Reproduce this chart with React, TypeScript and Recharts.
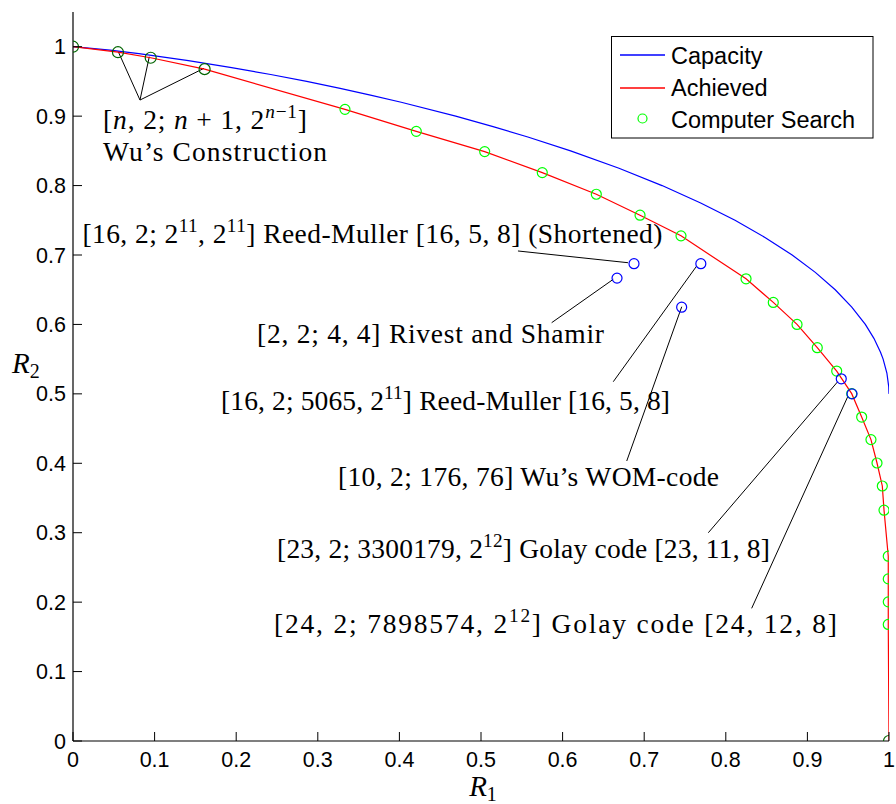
import React from 'react';
import { ComposedChart, Line, Scatter, XAxis, YAxis, Legend, ReferenceLine } from 'recharts';

// ---------- data ----------
const capacityR1 = [0, 0.0454, 0.0808, 0.1414, 0.1944, 0.2423, 0.2864, 0.3274, 0.3659, 0.4022, 0.469, 0.5148, 0.5574, 0.6098, 0.6691, 0.7219, 0.7692, 0.8113, 0.8485, 0.8813, 0.9097, 0.9341, 0.9544, 0.971, 0.9815, 0.9896, 0.9928, 0.9974, 0.9997, 1];
const capacityR2 = [1, 0.995, 0.99, 0.98, 0.97, 0.96, 0.95, 0.94, 0.93, 0.92, 0.9, 0.885, 0.87, 0.85, 0.825, 0.8, 0.775, 0.75, 0.725, 0.7, 0.675, 0.65, 0.625, 0.6, 0.58, 0.56, 0.55, 0.53, 0.51, 0.5];

const achievedR1 = [0, 0.0551, 0.0952, 0.1613, 0.3333, 0.4207, 0.5045, 0.5751, 0.6413, 0.6949, 0.7451, 0.8248, 0.8582, 0.8873, 0.9121, 0.9359, 0.9543, 0.9665, 0.9779, 0.9853, 0.9918, 0.9939, 0.9991, 0.9991, 0.9991, 0.9991, 1];
const achievedR2 = [1, 0.9921, 0.9841, 0.9677, 0.9098, 0.8781, 0.8489, 0.8187, 0.7875, 0.7573, 0.7276, 0.6657, 0.6317, 0.6, 0.5665, 0.5328, 0.5003, 0.4666, 0.4341, 0.4004, 0.3673, 0.3324, 0.2662, 0.2335, 0.2004, 0.1679, 0];

const searchR1 = [0.3333, 0.4207, 0.5045, 0.5751, 0.6413, 0.6949, 0.7451, 0.8248, 0.8582, 0.8873, 0.9121, 0.9359, 0.9543, 0.9665, 0.9779, 0.9853, 0.9918, 0.9939, 0.9991, 0.9991, 0.9991, 0.9991];
const searchR2 = [0.9098, 0.8781, 0.8489, 0.8187, 0.7875, 0.7573, 0.7276, 0.6657, 0.6317, 0.6, 0.5665, 0.5328, 0.5003, 0.4666, 0.4341, 0.4004, 0.3673, 0.3324, 0.2662, 0.2335, 0.2004, 0.1679];

const wuR1 = [0, 0.0551, 0.0952, 0.1613, 1];
const wuR2 = [1, 0.9921, 0.9841, 0.9677, 0];

const codesR1 = [0.6875, 0.6667, 0.7694, 0.7459, 0.9415, 0.9547];
const codesR2 = [0.6875, 0.6667, 0.6875, 0.6248, 0.5217, 0.5];

const xTicks = [0, 0.1, 0.2, 0.3, 0.4, 0.5, 0.6, 0.7, 0.8, 0.9, 1];
const yTicks = [0, 0.1, 0.2, 0.3, 0.4, 0.5, 0.6, 0.7, 0.8, 0.9, 1];

const legendNames = ['Capacity', 'Achieved', 'Computer Search'];

type Part = { t: string; it?: boolean; sup?: boolean };

// annotation texts (label anchor in data coordinates: left / baseline)
const annotationParts: Part[][] = [
  [{ t: '[' }, { t: 'n', it: true }, { t: ', 2; ' }, { t: 'n', it: true }, { t: ' + 1, 2' }, { t: 'n', it: true, sup: true }, { t: '−1', sup: true }, { t: ']' }],
  [{ t: 'Wu’s Construction' }],
  [{ t: '[16, 2; 2' }, { t: '11', sup: true }, { t: ', 2' }, { t: '11', sup: true }, { t: '] Reed-Muller [16, 5, 8] (Shortened)' }],
  [{ t: '[2, 2; 4, 4] Rivest and Shamir' }],
  [{ t: '[16, 2; 5065, 2' }, { t: '11', sup: true }, { t: '] Reed-Muller [16, 5, 8]' }],
  [{ t: '[10, 2; 176, 76] Wu’s WOM-code' }],
  [{ t: '[23, 2; 3300179, 2' }, { t: '12', sup: true }, { t: '] Golay code [23, 11, 8]' }],
  [{ t: '[24, 2; 7898574, 2' }, { t: '12', sup: true }, { t: '] Golay code [24, 12, 8]' }],
];
const annotationR1 = [0.0368, 0.0368, 0.0115, 0.2255, 0.1814, 0.3248, 0.25, 0.2463];
const annotationR2 = [0.8815, 0.8354, 0.7173, 0.5733, 0.4767, 0.3673, 0.2636, 0.1556];
const annotationWidths = [204, 224, 580, 347, 449, 381, 493, 563];

// leader lines [fromR1, fromR2, toR1, toR2]
const leaders = [
  [0.0821, 0.9232, 0.0555, 0.9928],
  [0.0821, 0.9232, 0.0935, 0.9856],
  [0.0821, 0.9232, 0.1605, 0.9689],
  [0.5453, 0.7058, 0.6801, 0.6889],
  [0.5866, 0.6025, 0.6621, 0.665],
  [0.6621, 0.5175, 0.7643, 0.6841],
  [0.6786, 0.4033, 0.746, 0.6255],
  [0.7786, 0.3, 0.9371, 0.5175],
  [0.8317, 0.1911, 0.9494, 0.4959],
];

// ---------- build tables ----------
const zip = (xs: number[], ys: number[]) => xs.map((x, i) => ({ x, y: ys[i] }));
const capacityData = zip(capacityR1, capacityR2);
const achievedData = zip(achievedR1, achievedR2);
const searchData = zip(searchR1, searchR2);
const wuData = zip(wuR1, wuR2);
const codesData = zip(codesR1, codesR2);
const annotationData = annotationR1.map((x, i) => ({ x, y: annotationR2[i], idx: i }));

// ---------- styles ----------
const SANS = '"Liberation Sans", Arial, Helvetica, sans-serif';
const SERIF = '"Liberation Serif", "Times New Roman", serif';
const TICK_FONT = 21.5;
const ANNO_FONT = 27.5;

const fmt = (v: number) => String(v);

const BottomTick = (p: any) => (
  <g>
    <line x1={p.x} x2={p.x} y1={p.y} y2={p.y - 9} stroke="#000" strokeWidth={1} />
    <text x={p.x} y={p.y + 26} textAnchor="middle" fontSize={TICK_FONT} fontFamily={SANS} fill="#000">
      {fmt(p.payload.value)}
    </text>
  </g>
);
const TopTick = (p: any) => (
  <line x1={p.x} x2={p.x} y1={p.y} y2={p.y + 9} stroke="#000" strokeWidth={1} />
);
const LeftTick = (p: any) => (
  <g>
    <line x1={p.x} x2={p.x + 9} y1={p.y} y2={p.y} stroke="#000" strokeWidth={1} />
    <text x={p.x - 7} y={p.y + 7.5} textAnchor="end" fontSize={TICK_FONT} fontFamily={SANS} fill="#000">
      {fmt(p.payload.value)}
    </text>
  </g>
);
const RightTick = (p: any) => (
  <line x1={p.x} x2={p.x - 9} y1={p.y} y2={p.y} stroke="#000" strokeWidth={1} />
);

const renderParts = (parts: Part[], base: number) => {
  const out: any[] = [];
  let raised = false;
  parts.forEach((p, i) => {
    let dy: number | undefined;
    if (p.sup && !raised) {
      dy = -11;
      raised = true;
    } else if (!p.sup && raised) {
      dy = 11;
      raised = false;
    }
    out.push(
      <tspan key={i} dy={dy} fontStyle={p.it ? 'italic' : 'normal'} fontSize={p.sup ? base * 0.7 : base}>
        {p.t}
      </tspan>
    );
  });
  return out;
};

const AnnotationShape = (props: any) => {
  const { cx, cy, payload } = props;
  const i = payload.idx;
  return (
    <text
      x={cx}
      y={cy}
      fontFamily={SERIF}
      fontSize={ANNO_FONT}
      fill="#000"
      style={{ whiteSpace: 'pre' }}
      textLength={annotationWidths[i]}
      lengthAdjust="spacing"
    >
      {renderParts(annotationParts[i], ANNO_FONT)}
    </text>
  );
};

const circleShape = (color: string, r: number) => (props: any) => (
  <circle cx={props.cx} cy={props.cy} r={r} fill="none" stroke={color} strokeWidth={1.2} />
);

const LegendBox = () => (
  <svg width={263} height={103} style={{ display: 'block', overflow: 'visible' }}>
    <rect x={0.5} y={0.5} width={261.5} height={101.5} fill="#fff" stroke="#000" strokeWidth={1} />
    <line x1={9} x2={54} y1={19} y2={19} stroke="#0000ff" strokeWidth={1.4} />
    <line x1={9} x2={54} y1={52} y2={52} stroke="#ff0000" strokeWidth={1.4} />
    <circle cx={31.5} cy={82.5} r={4.5} fill="none" stroke="#00ff00" strokeWidth={1.2} />
    <text x={60} y={28} fontSize={23.5} fontFamily={SANS} fill="#000">{legendNames[0]}</text>
    <text x={60} y={60} fontSize={23.5} fontFamily={SANS} fill="#000">{legendNames[1]}</text>
    <text x={60} y={92} fontSize={23.5} fontFamily={SANS} fill="#000">{legendNames[2]}</text>
  </svg>
);

const XTitle = (props: any) => {
  const vb = props.viewBox;
  return (
    <text x={vb.x + vb.width / 2 + 2} y={vb.y + 55} textAnchor="middle" fontFamily={SERIF} fill="#000">
      <tspan fontStyle="italic" fontSize={29}>R</tspan>
      <tspan fontSize={20} dy={5}>1</tspan>
    </text>
  );
};
const YTitle = (props: any) => {
  const vb = props.viewBox;
  return (
    <text x={vb.x - 21} y={vb.y + vb.height / 2 - 4} textAnchor="start" fontFamily={SERIF} fill="#000">
      <tspan fontStyle="italic" fontSize={29}>R</tspan>
      <tspan fontSize={20} dy={5}>2</tspan>
    </text>
  );
};

export default function App() {
  return (
    <div style={{ position: 'absolute', left: 0, top: 0, width: 896, height: 804, background: '#fff' }}>
      <ComposedChart width={896} height={804} margin={{ top: 12, right: 7, bottom: 33, left: 33 }}>
        <XAxis
          xAxisId="b"
          dataKey="x"
          type="number"
          domain={[0, 1]}
          ticks={xTicks}
          interval={0}
          allowDataOverflow
          height={30}
          tickSize={0}
          tickMargin={0}
          tickLine={false}
          axisLine={{ stroke: '#000', strokeWidth: 1.2 }}
          tick={<BottomTick />}
          label={<XTitle />}
        />
        <XAxis
          xAxisId="t"
          orientation="top"
          dataKey="x"
          type="number"
          domain={[0, 1]}
          ticks={xTicks}
          interval={0}
          allowDataOverflow
          height={0}
          tickSize={0}
          tickMargin={0}
          tickLine={false}
          axisLine={{ stroke: '#000', strokeWidth: 1.2 }}
          tick={<TopTick />}
        />
        <YAxis
          yAxisId="l"
          dataKey="y"
          type="number"
          domain={[0, 1.05]}
          ticks={yTicks}
          interval={0}
          allowDataOverflow
          width={40}
          tickSize={0}
          tickMargin={0}
          tickLine={false}
          axisLine={{ stroke: '#000', strokeWidth: 1.2 }}
          tick={<LeftTick />}
          label={<YTitle />}
        />
        <YAxis
          yAxisId="r"
          orientation="right"
          dataKey="y"
          type="number"
          domain={[0, 1.05]}
          ticks={yTicks}
          interval={0}
          allowDataOverflow
          width={0}
          tickSize={0}
          tickMargin={0}
          tickLine={false}
          axisLine={{ stroke: '#000', strokeWidth: 1.2 }}
          tick={<RightTick />}
        />
        <Legend
          layout="vertical"
          align="center"
          verticalAlign="middle"
          content={<LegendBox />}
          wrapperStyle={{ left: 611, top: 36, width: 263, height: 103 }}
        />
        {leaders.map((s, i) => (
          <ReferenceLine
            key={i}
            xAxisId="b"
            yAxisId="l"
            segment={[{ x: s[0], y: s[1] }, { x: s[2], y: s[3] }]}
            stroke="#000"
            strokeWidth={1}
            ifOverflow="visible"
          />
        ))}
        <Line xAxisId="b" yAxisId="l" data={capacityData} dataKey="y" type="linear" stroke="#0000ff" strokeWidth={1.2} dot={false} isAnimationActive={false} legendType="line" name="Capacity" />
        <Line xAxisId="b" yAxisId="l" data={achievedData} dataKey="y" type="linear" stroke="#ff0000" strokeWidth={1.2} dot={false} isAnimationActive={false} legendType="line" name="Achieved" />
        <Scatter xAxisId="b" yAxisId="l" data={searchData} dataKey="y" shape={circleShape('#00ff00', 5)} isAnimationActive={false} name="Computer Search" />
        <Scatter xAxisId="b" yAxisId="l" data={codesData} dataKey="y" shape={circleShape('#0000ff', 5)} isAnimationActive={false} legendType="none" />
        <Scatter xAxisId="b" yAxisId="l" data={wuData} dataKey="y" shape={circleShape('#006400', 5.5)} isAnimationActive={false} legendType="none" />
        <Scatter xAxisId="b" yAxisId="l" data={annotationData} dataKey="y" shape={<AnnotationShape />} isAnimationActive={false} legendType="none" />
      </ComposedChart>
    </div>
  );
}
